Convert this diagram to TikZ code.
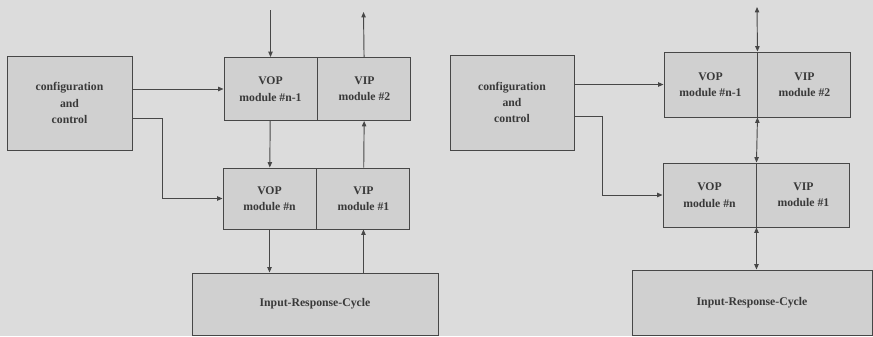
\documentclass[tikz,border=0pt]{standalone}
\usepackage{fontspec}
\setmainfont{Liberation Serif}
\usetikzlibrary{arrows.meta,positioning}
\definecolor{paper}{HTML}{DCDCDC}
\definecolor{boxfill}{HTML}{D0D0D0}
\definecolor{ink}{HTML}{474747}

\begin{document}
\begin{tikzpicture}[x=0.03cm,y=-0.03cm,
      box/.style={draw=ink,fill=boxfill,line width=0.8pt,inner sep=0pt,
                  align=center,text=ink!80!black,
                  font=\fontsize{10}{14}\selectfont\bfseries},
      half/.style={box,minimum width=2.79cm,minimum height=1.89cm},
      >={Triangle[length=1.6mm,width=1.3mm]}]
    \fill[paper] (0,0) rectangle (873,336);
    \useasboundingbox (0,0) rectangle (873,336);
    % left variant
    \node[box,minimum width=3.75cm,minimum height=2.82cm] (cfgA) at (69.5,103) {configuration\\and\\control};
    \node[half] (vopA1) at (270.5,89) {VOP\\module \#n-1};
    \node[half,right=0pt of vopA1] (vipA1) {VIP\\module \#2};
    \node[half,minimum height=1.83cm] (vopA2) at (269.5,198.5) {VOP\\module \#n};
    \node[half,minimum height=1.83cm,right=0pt of vopA2] (vipA2) {VIP\\module \#1};
    \node[box,minimum width=7.38cm,minimum height=1.86cm] (ircA) at (315,304) {Input-Response-Cycle};
    \coordinate (inA) at (270.5,10);
    \coordinate (outA) at (363.5,12);
    \draw[ink,line width=0.8pt,->] (inA) -- (vopA1);
    \draw[ink,line width=0.8pt,->] (vipA1) -- (outA);
    \draw[ink,line width=0.8pt,->] (vopA1) -- (vopA2);
    \draw[ink,line width=0.8pt,->] (vipA2) -- (vipA1);
    \draw[ink,line width=0.8pt,->] (vopA2) -- (vopA2 |- ircA.north);
    \draw[ink,line width=0.8pt,->] (vipA2 |- ircA.north) -- (vipA2);
    \draw[ink,line width=0.8pt,->] (cfgA.east |- vopA1) -- (vopA1);
    \draw[ink,line width=0.8pt,->] (cfgA.east) ++(0,15) -- ++(30,0) |- (vopA2);
    % right variant
    \node[box,minimum width=3.72cm,minimum height=2.85cm] (cfgB) at (512,102.5) {configuration\\and\\control};
    \node[half,minimum height=1.95cm] (vopB1) at (710.5,84.5) {VOP\\module \#n-1};
    \node[half,minimum height=1.95cm,right=0pt of vopB1] (vipB1) {VIP\\module \#2};
    \node[half,minimum height=1.92cm] (vopB2) at (709.5,195) {VOP\\module \#n};
    \node[half,minimum height=1.92cm,right=0pt of vopB2] (vipB2) {VIP\\module \#1};
    \node[box,minimum width=7.2cm,minimum height=1.95cm] (ircB) at (752,302.5) {Input-Response-Cycle};
    \coordinate (ioB) at (757,7);
    \draw[ink,line width=0.8pt,<->] (ioB) -- (vopB1.north east);
    \draw[ink,line width=0.8pt,<->] (vopB1.south east) -- (vopB2.north east);
    \draw[ink,line width=0.8pt,<->] (vopB2.south east) -- (vopB2.south east |- ircB.north);
    \draw[ink,line width=0.8pt,->] (cfgB.east |- vopB1) -- (vopB1);
    \draw[ink,line width=0.8pt,->] (cfgB.east) ++(0,13.5) -- ++(28,0) |- (vopB2);
  \end{tikzpicture}
\end{document}
